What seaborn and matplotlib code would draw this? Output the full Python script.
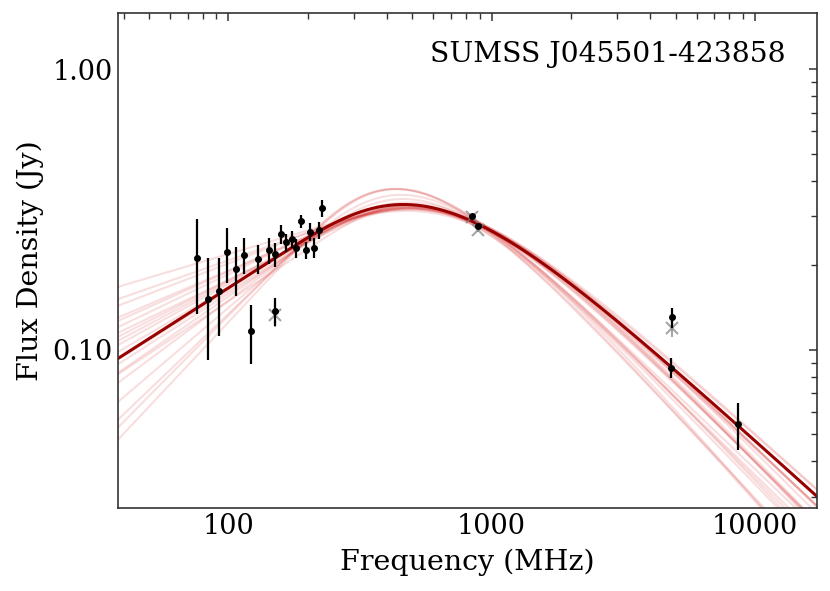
import numpy as np
import pandas as pd
import matplotlib
matplotlib.use('Agg')
import matplotlib.pyplot as plt
import matplotlib.ticker as mticker
import seaborn as sns

# measured points (black)
freq = [76, 84, 92, 99, 107, 115, 122, 130, 143, 151, 150, 158, 166, 174, 181,
        189, 197, 204, 212, 220, 227, 843, 888, 4860, 4800, 8640]
flux = [0.213, 0.152, 0.162, 0.2225, 0.194, 0.218, 0.117, 0.211, 0.226, 0.219,
        0.1375, 0.2585, 0.2414, 0.248, 0.230, 0.2875, 0.2266, 0.2634, 0.231,
        0.267, 0.319, 0.300, 0.276, 0.1305, 0.0864, 0.0543]
flux_err = [0.079, 0.060, 0.050, 0.050, 0.038, 0.032, 0.028, 0.025, 0.024, 0.021,
            0.016, 0.021, 0.018, 0.018, 0.0175, 0.016, 0.0165, 0.019, 0.0185,
            0.018, 0.022, 0.006, 0.005, 0.0107, 0.0069, 0.0102]

# uncorrected points (grey crosses)
freq_raw = [150, 843, 888, 4860]
flux_raw = [0.1335, 0.298, 0.267, 0.1199]
flux_raw_err = [0.013, 0.006, 0.005, 0.009]

# best fit (Snellen peaked-spectrum model)
best_sp, best_nup, best_k, best_l = 0.317, 630, 0.6, -0.85

# posterior samples
samp_sp = [0.263, 0.274, 0.281, 0.284, 0.291, 0.298, 0.296, 0.300, 0.303, 0.308,
           0.311, 0.311, 0.324, 0.332, 0.349, 0.368, 0.371, 0.373, 0.286, 0.309]
samp_nup = [980, 920, 880, 840, 820, 790, 760, 740, 720, 700,
            680, 660, 630, 600, 550, 510, 480, 470, 800, 680]
samp_k = [0.28, 0.33, 0.36, 0.40, 0.42, 0.45, 0.48, 0.50, 0.52, 0.55,
          0.58, 0.60, 0.65, 0.70, 0.80, 0.90, 0.95, 1.00, 0.45, 0.62]
samp_l = [-1.00, -0.98, -0.95, -0.97, -0.92, -0.92, -0.95, -0.90, -1.00, -0.85,
          -0.93, -0.84, -0.88, -0.98, -0.95, -1.00, -0.92, -0.90, -1.08, -1.05]


def snellen(nu, sp, nup, k, l):
    u = nu / nup
    return sp / (1 - np.exp(-1)) * u**k * (1 - np.exp(-u**(l - k)))


grid = np.logspace(np.log10(30), np.log10(20000), 400)
rows = []
for i, (sp, n, k, l) in enumerate(zip(samp_sp, samp_nup, samp_k, samp_l)):
    rows.append(pd.DataFrame({'freq': grid, 'flux': snellen(grid, sp, n, k, l), 'sample': i}))
df_samp = pd.concat(rows)
df_best = pd.DataFrame({'freq': grid, 'flux': snellen(grid, best_sp, best_nup, best_k, best_l)})

sns.set_style('white')
plt.rcParams['font.family'] = ['DejaVu Serif']
plt.rcParams['text.color'] = 'black'
plt.rcParams['axes.labelcolor'] = 'black'
plt.rcParams['xtick.color'] = 'black'
plt.rcParams['ytick.color'] = 'black'

fig = plt.figure(figsize=(8.3, 5.91), dpi=100)
ax = fig.add_axes([0.1418, 0.1404, 0.8425, 0.8381])

sns.lineplot(data=df_samp, x='freq', y='flux', units='sample', estimator=None,
             color='#d62728', alpha=0.15, lw=1.5, ax=ax, legend=False)
sns.lineplot(data=df_best, x='freq', y='flux', color='#990000', lw=2.2, ax=ax)

ax.errorbar(freq_raw, flux_raw, yerr=flux_raw_err, fmt='x', color='grey', alpha=0.7,
            ms=8, mew=1.5, elinewidth=1.5, zorder=4)
ax.errorbar(freq, flux, yerr=flux_err, fmt='o', color='black', ms=4,
            elinewidth=1.6, zorder=5)

ax.set_xscale('log')
ax.set_yscale('log')
ax.set_xlim(38, 17200)
ax.set_ylim(0.0273, 1.59)
ax.xaxis.set_major_formatter(mticker.FormatStrFormatter('%d'))
ax.yaxis.set_major_formatter(mticker.FormatStrFormatter('%.2f'))
ax.xaxis.set_minor_formatter(mticker.NullFormatter())
ax.yaxis.set_minor_formatter(mticker.NullFormatter())
ax.tick_params(which='both', direction='in', top=True, right=True, labelsize=19.5, color='#333333')
ax.tick_params(which='major', length=6, width=1.1)
ax.tick_params(which='minor', length=4, width=1.0)
for s in ax.spines.values():
    s.set_linewidth(1.2)
    s.set_color('#333333')

ax.set_xlabel('Frequency (MHz)', fontsize=20.5, labelpad=6)
ax.set_ylabel('Flux Density (Jy)', fontsize=20.5, labelpad=6)
ax.text(0.955, 0.90, 'SUMSS J045501-423858', transform=ax.transAxes,
        ha='right', va='baseline', fontsize=20.3)

fig.savefig('out.png', dpi=100)
